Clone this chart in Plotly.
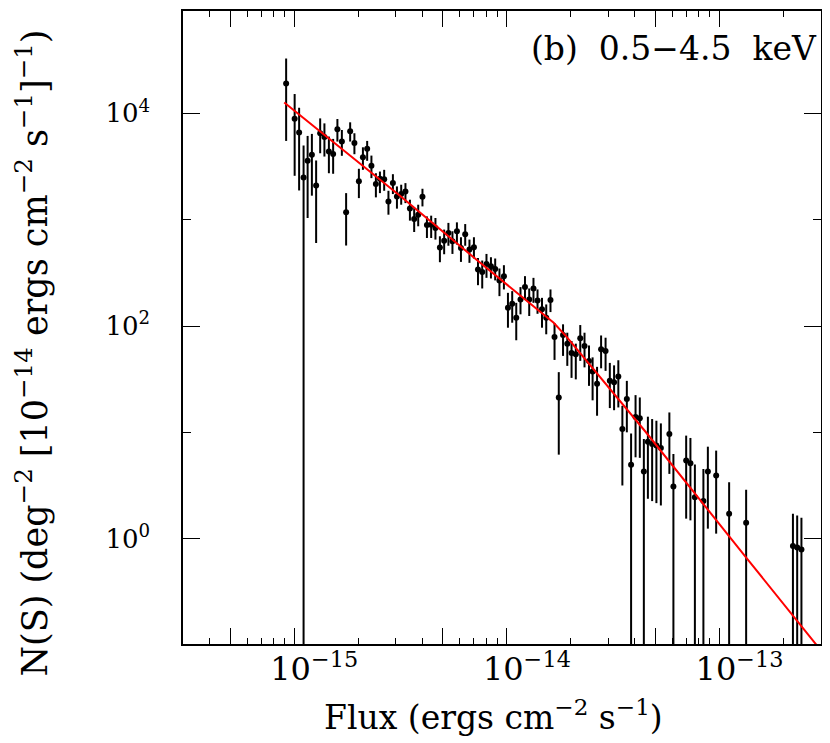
import numpy as np
import plotly.graph_objects as go

# ---- data (log10 values) ----
log_flux = [
    -15.038, -14.998, -14.977, -14.956, -14.937, -14.917, -14.897, -14.878, -14.858, -14.837,
    -14.817, -14.797, -14.776, -14.756, -14.737, -14.717, -14.696, -14.677, -14.657, -14.637,
    -14.616, -14.597, -14.577, -14.557, -14.536, -14.517, -14.497, -14.477, -14.456, -14.436,
    -14.417, -14.397, -14.376, -14.356, -14.336, -14.315, -14.295, -14.275, -14.256, -14.235,
    -14.216, -14.196, -14.176, -14.155, -14.136, -14.116, -14.096, -14.075, -14.055, -14.035,
    -14.014, -13.995, -13.975, -13.956, -13.936, -13.915, -13.895, -13.875, -13.856, -13.835,
    -13.815, -13.795, -13.776, -13.756, -13.736, -13.716, -13.696, -13.676, -13.655, -13.635,
    -13.614, -13.597, -13.576, -13.557, -13.536, -13.516, -13.496, -13.476, -13.457, -13.436,
    -13.416, -13.395, -13.375, -13.356, -13.337, -13.317, -13.297, -13.276, -13.236, -13.217,
    -13.157, -13.137, -13.116, -13.076, -13.055, -13.016, -12.955, -12.875, -12.655, -12.635,
    -12.615,
]
log_n = [
    4.281, 3.950, 3.819, 3.397, 3.554, 3.610, 3.322, 3.814, 3.777, 3.641,
    3.619, 3.850, 3.735, 3.071, 3.833, 3.721, 3.362, 3.587, 3.667, 3.507,
    3.336, 3.385, 3.381, 3.172, 3.344, 3.219, 3.242, 3.266, 3.106, 3.006,
    3.047, 3.216, 2.950, 2.952, 2.922, 2.738, 2.802, 2.875, 2.797, 2.891,
    2.734, 2.863, 2.719, 2.741, 2.532, 2.509, 2.584, 2.563, 2.537, 2.429,
    2.469, 2.172, 2.209, 2.078, 2.250, 2.366, 2.250, 2.353, 2.241, 2.157,
    2.078, 2.244, 1.897, 1.328, 1.916, 1.834, 1.747, 1.735, 1.885, 1.812,
    1.672, 1.572, 1.456, 1.782, 1.766, 1.484, 1.472, 1.526, 1.031, 1.313,
    0.694, 1.144, 1.133, 0.631, 0.912, 0.891, 0.875, 0.853, 0.985, 0.490,
    0.734, 0.709, 0.390, 0.353, 0.631, 0.594, 0.234, 0.150, -0.069, -0.084,
    -0.103,
]
log_n_hi = [
    4.516, 4.182, 4.053, 3.697, 3.788, 3.807, 3.557, 3.953, 3.906, 3.782,
    3.760, 3.947, 3.844, 3.250, 3.916, 3.813, 3.479, 3.681, 3.741, 3.603,
    3.437, 3.453, 3.469, 3.272, 3.428, 3.313, 3.329, 3.344, 3.188, 3.109,
    3.141, 3.291, 3.031, 3.038, 3.016, 2.844, 2.907, 2.970, 2.891, 2.975,
    2.835, 2.959, 2.813, 2.835, 2.640, 2.616, 2.678, 2.647, 2.635, 2.541,
    2.572, 2.312, 2.328, 2.218, 2.366, 2.469, 2.353, 2.453, 2.344, 2.265,
    2.203, 2.344, 2.028, 1.566, 2.016, 1.937, 1.859, 1.834, 2.009, 1.937,
    1.817, 1.705, 1.616, 1.911, 1.890, 1.653, 1.630, 1.678, 1.250, 1.484,
    0.990, 1.350, 1.328, 0.938, 1.147, 1.125, 1.109, 1.084, 1.187, 0.797,
    0.969, 0.947, 0.697, 0.656, 0.865, 0.828, 0.531, 0.459, 0.234, 0.218,
    0.197,
]
# None = lower error reaches zero (bar runs off the bottom of the log axis)
log_n_lo = [
    3.741, 3.413, 3.275, None, 3.016, 3.226, 2.781, 3.625, 3.594, 3.437,
    3.432, 3.735, 3.601, 2.757, 3.735, 3.616, 3.203, 3.469, 3.554, 3.391,
    3.210, 3.250, 3.272, 3.047, 3.241, 3.104, 3.141, 3.156, 2.991, 2.884,
    2.938, 3.125, 2.828, 2.828, 2.813, 2.600, 2.675, 2.755, 2.678, 2.766,
    2.603, 2.755, 2.594, 2.635, 2.384, 2.353, 2.453, 2.447, 2.429, 2.281,
    2.344, 1.984, 2.031, 1.866, 2.110, 2.250, 2.094, 2.218, 2.115, 1.984,
    1.922, 2.131, 1.681, 0.790, 1.719, 1.625, 1.512, 1.498, 1.672, 1.611,
    1.437, 1.301, 1.156, 1.602, 1.578, 1.228, 1.208, 1.234, 0.500, 1.000,
    None, 0.765, 0.760, None, 0.375, 0.353, 0.334, 0.312, 0.609, None,
    0.188, 0.172, None, None, 0.094, 0.047, None, None, None, None,
    None,
]

# model curve (broken power law)
line_log_flux = [-15.047, -14.50, -14.134, -13.78, -13.72, -13.35, -12.87, -12.52]
line_log_n = [4.103, 3.22, 2.609, 2.03, 1.90, 1.01, -0.19, -1.06]

# axis ticks
x_major = [5e-16, 1e-15, 5e-15, 1e-14, 5e-14, 1e-13]
x_major_text = ["", "10<sup>\u221215</sup>", "", "10<sup>\u221214</sup>", "", "10<sup>\u221213</sup>"]
x_minor = [4e-16, 6e-16, 7e-16, 8e-16, 9e-16,
           2e-15, 3e-15, 4e-15, 6e-15, 7e-15, 8e-15, 9e-15,
           2e-14, 3e-14, 4e-14, 6e-14, 7e-14, 8e-14, 9e-14,
           2e-13]
y_major = [1, 100, 10000]
y_major_text = ["10<sup>0</sup>", "10<sup>2</sup>", "10<sup>4</sup>"]
y_minor = [10, 1000]

# ---- derived arrays ----
flux = 10 ** np.array(log_flux)
n = 10 ** np.array(log_n)
hi = 10 ** np.array(log_n_hi)
lo = np.array([10 ** v if v is not None else 0.0 for v in log_n_lo])

FONT = "DejaVu Serif"

fig = go.Figure()
fig.add_trace(go.Scatter(
    x=flux, y=n, mode="markers",
    marker=dict(color="black", size=6),
    error_y=dict(type="data", symmetric=False, array=hi - n, arrayminus=n - lo,
                 color="black", thickness=2, width=0),
    showlegend=False,
))
fig.add_trace(go.Scatter(
    x=10 ** np.array(line_log_flux), y=10 ** np.array(line_log_n), mode="lines",
    line=dict(color="#ff0000", width=2), showlegend=False,
))

fig.update_xaxes(
    type="log", range=[-15.523, -12.523],
    showline=True, linecolor="black", linewidth=1.5, mirror="allticks",
    ticks="inside", ticklen=16, tickwidth=1.3, tickcolor="black",
    tickmode="array", tickvals=x_major, ticktext=x_major_text,
    tickfont=dict(family=FONT, size=32, color="black"),
    ticklabelshift=20, ticklabelstandoff=-4,
    minor=dict(tickmode="array", tickvals=x_minor, ticks="inside",
               ticklen=6, tickwidth=1.3, tickcolor="black", showgrid=False),
    showgrid=False, zeroline=False,
)
fig.update_yaxes(
    type="log", range=[-0.991, 4.963],
    showline=True, linecolor="black", linewidth=1.5, mirror="allticks",
    ticks="inside", ticklen=17, tickwidth=1.3, tickcolor="black",
    tickmode="array", tickvals=y_major, ticktext=y_major_text,
    tickfont=dict(family=FONT, size=26, color="black"),
    ticklabelstandoff=26,
    minor=dict(tickmode="array", tickvals=y_minor, ticks="inside",
               ticklen=8, tickwidth=1.3, tickcolor="black", showgrid=False),
    showgrid=False, zeroline=False,
)

fig.update_layout(
    width=822, height=735,
    margin=dict(l=175, r=9, t=1, b=99),
    paper_bgcolor="white", plot_bgcolor="white",
    font=dict(family=FONT, color="black"),
    annotations=[
        dict(text="Flux (ergs cm<sup>\u22122</sup> s<sup>\u22121</sup>)",
             xref="paper", yref="paper", x=0.486, y=-0.113,
             xanchor="center", yanchor="middle", showarrow=False,
             font=dict(family=FONT, size=33, color="black")),
        dict(text="N(S) (deg<sup>\u22122</sup> [10<sup>\u221214</sup> ergs cm<sup>\u22122</sup> s<sup>\u22121</sup>]<sup>\u22121</sup>)",
             xref="paper", yref="paper", x=-0.237, y=0.46, textangle=-90,
             xanchor="center", yanchor="middle", showarrow=False,
             font=dict(family=FONT, size=35, color="black")),
        dict(text="(b)\u00a0 0.5\u22124.5\u00a0 keV",
             xref="paper", yref="paper", x=0.997, y=0.940,
             xanchor="right", yanchor="middle", showarrow=False,
             font=dict(family=FONT, size=33, color="black")),
    ],
)

fig.write_html("out.html")
